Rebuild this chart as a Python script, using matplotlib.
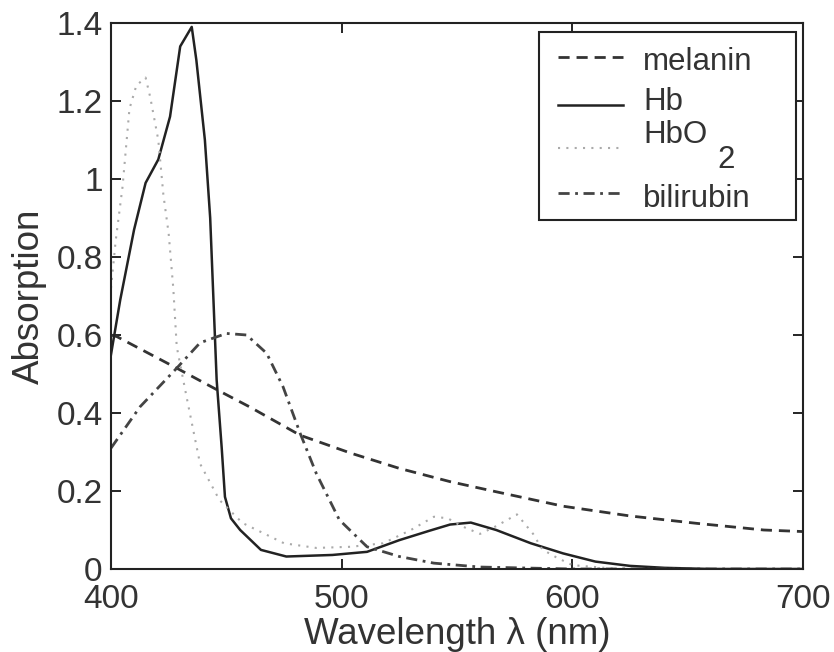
import matplotlib
matplotlib.use("Agg")
import matplotlib.pyplot as plt
from matplotlib.lines import Line2D
from matplotlib.patches import Rectangle

plt.rcParams['font.family'] = ['Liberation Sans', 'DejaVu Sans']

# ---- data ----
hb_wl = [400, 404, 410, 415, 420.5, 425.6, 430, 435, 437, 440.7, 443, 445.8, 448, 449.4,
         452, 456, 465, 476, 496, 511, 525, 538, 547, 556, 567, 582, 596, 610, 625, 640, 660, 700]
hb_abs = [0.55, 0.69, 0.87, 0.99, 1.05, 1.16, 1.34, 1.39, 1.305, 1.10, 0.90, 0.485, 0.31, 0.185,
          0.13, 0.10, 0.049, 0.032, 0.036, 0.044, 0.074, 0.098, 0.114, 0.119, 0.10, 0.066, 0.04,
          0.019, 0.008, 0.003, 0.0, 0.0]

hbo2_wl = [400, 402, 405, 408, 411, 415, 417, 420.5, 422.7, 425, 427, 428.5, 432.8, 438.6,
           447, 457, 475, 489, 504, 518, 530, 540, 546, 552, 560, 567, 576, 583, 587, 593, 600, 620, 700]
hbo2_abs = [0.72, 0.84, 0.98, 1.18, 1.24, 1.26, 1.21, 1.10, 0.96, 0.86, 0.72, 0.57, 0.44, 0.27,
            0.177, 0.118, 0.066, 0.054, 0.057, 0.066, 0.10, 0.134, 0.13, 0.11, 0.09, 0.11, 0.14,
            0.09, 0.05, 0.03, 0.01, 0.0, 0.0]

mel_wl = [400, 402.5, 428.5, 445.8, 460, 482, 504, 525, 547, 567, 596, 625, 654, 683, 700]
mel_abs = [0.60, 0.596, 0.515, 0.46, 0.416, 0.343, 0.297, 0.258, 0.224, 0.198, 0.161, 0.136,
           0.117, 0.10, 0.096]

bil_wl = [400, 412.6, 428.5, 438.6, 450, 458.8, 467.5, 474.6, 482, 489, 499, 511, 525, 540,
          560, 600, 700]
bil_abs = [0.31, 0.416, 0.515, 0.58, 0.604, 0.60, 0.553, 0.467, 0.348, 0.245, 0.126, 0.057,
           0.032, 0.015, 0.005, 0.0, 0.0]

series_labels = ['melanin', 'Hb', 'HbO', 'bilirubin']
hbo2_subscript = '2'

xticks = [400, 500, 600, 700]
yticks = [0, 0.2, 0.4, 0.6, 0.8, 1.0, 1.2, 1.4]
yticklabels = ['0', '0.2', '0.4', '0.6', '0.8', '1', '1.2', '1.4']

# ---- styles ----
W, H = 834, 652
FS = 24
LFS = 22.5
TXT = '#333333'
styles = [
    dict(color='#333333', lw=2.0, linestyle=(0, (4, 2.5))),
    dict(color='#222222', lw=1.8, linestyle='-'),
    dict(color='#aaaaaa', lw=1.5, linestyle=(0, (1, 3))),
    dict(color='#444444', lw=2.0, linestyle=(0, (4, 2, 1, 2))),
]

fig = plt.figure(figsize=(W / 100, H / 100), dpi=100)
ax = fig.add_axes([111 / W, (H - 569) / H, (803 - 111) / W, (569 - 23) / H])

for (wl, ab), st in zip([(mel_wl, mel_abs), (hb_wl, hb_abs), (hbo2_wl, hbo2_abs),
                         (bil_wl, bil_abs)], styles):
    ax.plot(wl, ab, **st)

ax.set_xlim(400, 700)
ax.set_ylim(0, 1.4)
ax.set_xticks(xticks)
ax.set_yticks(yticks)
ax.set_yticklabels(yticklabels)

for s in ax.spines.values():
    s.set_linewidth(1.5)
    s.set_color('#222222')
ax.tick_params(direction='in', length=7, width=1.2, top=True, right=True,
               labelsize=FS, labelcolor=TXT)
ax.tick_params(axis='x', pad=11)
ax.tick_params(axis='y', pad=6)

ax.set_xlabel('Wavelength λ (nm)', fontsize=26.5, color=TXT, labelpad=1)
ax.set_ylabel('Absorption', fontsize=26.5, color=TXT, labelpad=7)

# ---- legend box (MATLAB style, placed in figure pixel coordinates) ----
def fx(x):
    return x / W

def fy(y):
    return 1 - y / H

frame = Rectangle((fx(539), fy(220)), fx(796) - fx(539), fy(32) - fy(220),
                  transform=fig.transFigure, facecolor='white', edgecolor='#222222',
                  lw=1.5, zorder=5)
fig.add_artist(frame)

handle_y = [57, 105, 148, 193]
text_base = [70, 110, 143, 207]
for st, hy, tb, lab in zip(styles, handle_y, text_base, series_labels):
    fig.add_artist(Line2D([fx(558), fx(623)], [fy(hy), fy(hy)], transform=fig.transFigure,
                          zorder=6, **st))
    fig.text(fx(643), fy(tb), lab, fontsize=LFS, color=TXT, ha='left', va='baseline',
             zorder=6)
fig.text(fx(717), fy(168), hbo2_subscript, fontsize=LFS, color=TXT, ha='left',
         va='baseline', zorder=6)

fig.savefig('out.png', dpi=100, facecolor='white')
